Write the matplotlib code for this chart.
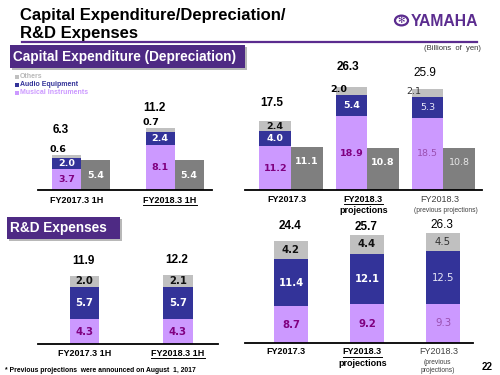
import matplotlib
matplotlib.use('Agg')
import matplotlib.pyplot as plt
from matplotlib.patches import Rectangle, Circle
from matplotlib.lines import Line2D

plt.rcParams['font.family'] = ['Liberation Sans', 'DejaVu Sans']

# --- data -------------------------------------------------------------
half_labels = ['FY2017.3 1H', 'FY2018.3 1H']
year_labels = ['FY2017.3', 'FY2018.3', 'FY2018.3']
year_sub = ['', 'projections', '(previous projections)']

capex_half_mi = [3.7, 8.1]
capex_half_av = [2.0, 2.4]
capex_half_oth = [0.6, 0.7]
capex_half_total = [6.3, 11.2]
dep_half = [5.4, 5.4]

capex_year_mi = [11.2, 18.9, 18.5]
capex_year_av = [4.0, 5.4, 5.3]
capex_year_oth = [2.4, 2.0, 2.1]
capex_year_total = [17.5, 26.3, 25.9]
dep_year = [11.1, 10.8, 10.8]

rd_half_mi = [4.3, 4.3]
rd_half_av = [5.7, 5.7]
rd_half_oth = [2.0, 2.1]
rd_half_total = [11.9, 12.2]

rd_year_mi = [8.7, 9.2, 9.3]
rd_year_av = [11.4, 12.1, 12.5]
rd_year_oth = [4.2, 4.4, 4.5]
rd_year_total = [24.4, 25.7, 26.3]

# --- style ------------------------------------------------------------
C_MI = '#cc99ff'
C_AV = '#333399'
C_OTH = '#c0c0c0'
C_DEP = '#7f7f7f'
PURPLE = '#5b2c8f'
VERD = ['DejaVu Sans']

W, H = 500, 375
fig = plt.figure(figsize=(5, 3.75), dpi=100)
fig.patch.set_facecolor('white')


def px_axes(x0, x1, y_top, y_base):
    ax = fig.add_axes([x0 / W, 1 - y_base / H, (x1 - x0) / W, (y_base - y_top) / H])
    ax.set_facecolor('none')
    for s in ['top', 'left', 'right']:
        ax.spines[s].set_visible(False)
    ax.spines['bottom'].set_linewidth(1.3)
    ax.set_xticks([])
    ax.set_yticks([])
    return ax


def seg_text(ax, x, y, s, color, size, bold=True):
    ax.text(x, y, s, ha='center', va='center', color=color, fontsize=size,
            family=VERD, fontweight='bold' if bold else 'normal')


def cat_text(ax, x, s, dy_px, size=6.5, bold=True, color='black'):
    return ax.annotate(s, xy=(x, 0), xycoords=ax.get_xaxis_transform(),
                       xytext=(0, -dy_px * 0.72), textcoords='offset points',
                       ha='center', va='center', fontsize=size, color=color,
                       fontweight='bold' if bold else 'normal')


def total_text(ax, x, y, s, dy_px, dx_px=0, bold=True, size=8.5):
    ax.annotate(s, xy=(x, y), xytext=(dx_px * 0.72, dy_px * 0.72),
                textcoords='offset points', ha='center', va='center',
                fontsize=size, fontweight='bold' if bold else 'normal', color='black')


underlined = []

# --- header -----------------------------------------------------------
fig.text(20 / W, 1 - 20 / H, 'Capital Expenditure/Depreciation/', fontsize=12,
         fontweight='bold', va='baseline')
fig.text(20 / W, 1 - 38 / H, 'R&D Expenses', fontsize=12, fontweight='bold', va='baseline')
fig.add_artist(Line2D([22 / W, 477 / W], [1 - 41.5 / H] * 2, color=PURPLE, lw=1.6))

fig.add_artist(Circle((401.5 / W, 1 - 20.5 / H), 6.5 / W, transform=fig.transFigure,
                      facecolor='none', edgecolor=PURPLE, lw=1.6))
fig.text(401.5 / W, 1 - 20.5 / H, '✻', fontsize=6.5, color=PURPLE, family=VERD,
         ha='center', va='center')
fig.text(411 / W, 1 - 21 / H, 'YAMAHA', fontsize=11.3, fontweight='bold', color=PURPLE,
         va='center')
fig.text(481 / W, 1 - 48 / H, '(Billions  of  yen)', fontsize=5.5, color='#333333',
         ha='right', va='center')


def title_box(x0, x1, y0, y1, s):
    fig.add_artist(Rectangle((x0 / W + 2 / W, 1 - y1 / H - 2 / H), (x1 - x0) / W, (y1 - y0) / H,
                             transform=fig.transFigure, facecolor='#b8b8b8', edgecolor='none'))
    fig.add_artist(Rectangle((x0 / W, 1 - y1 / H), (x1 - x0) / W, (y1 - y0) / H,
                             transform=fig.transFigure, facecolor='#4e2a84', edgecolor='none'))
    fig.text((x0 + 3) / W, 1 - (y0 + y1) / 2 / H, s, fontsize=9.8, fontweight='bold',
             color='white', va='center')


title_box(10, 245, 45, 68, 'Capital Expenditure (Depreciation)')
title_box(7, 120, 217, 239, 'R&D Expenses')

# legend
for k, (lab, col, tcol) in enumerate([('Others', C_OTH, '#b8b8b8'),
                                     ('Audio Equipment', C_AV, C_AV),
                                     ('Musical Instruments', C_MI, C_MI)]):
    yy = 77 + 8 * k
    fig.add_artist(Rectangle((15 / W, 1 - (yy + 2) / H), 4 / W, 4 / H,
                             transform=fig.transFigure, facecolor=col, edgecolor='none'))
    fig.text(20 / W, 1 - yy / H, lab, fontsize=5, fontweight='bold', color=tcol, va='center')

# --- capex 1H ---------------------------------------------------------
scale = 5.55
ax = px_axes(38, 212, 62, 190)
ax.set_xlim(-0.46, 1.40)
ax.set_ylim(0, 128 / scale)
w = 0.31
for i in range(2):
    xs = i - w / 2
    xd = i + w / 2
    ax.bar(xs, capex_half_mi[i], w, color=C_MI)
    ax.bar(xs, capex_half_av[i], w, bottom=capex_half_mi[i], color=C_AV)
    top = capex_half_mi[i] + capex_half_av[i]
    ax.bar(xs, capex_half_oth[i], w, bottom=top, color=C_OTH)
    ax.bar(xd, dep_half[i], w, color=C_DEP)
    seg_text(ax, xs, capex_half_mi[i] / 2, f'{capex_half_mi[i]:.1f}', '#800080', 6.8)
    seg_text(ax, xs, capex_half_mi[i] + capex_half_av[i] / 2, f'{capex_half_av[i]:.1f}', 'white', 6.8)
    ax.annotate(f'{capex_half_oth[i]:.1f}', xy=(xs - w / 2, top + capex_half_oth[i]),
                xytext=(-2, 0.5), textcoords='offset points', ha='left', va='bottom',
                fontsize=6.8, family=VERD, fontweight='bold')
    seg_text(ax, xd, dep_half[i] / 2, f'{dep_half[i]:.1f}', 'white', 6.8)
    total_text(ax, xs, top + capex_half_oth[i], f'{capex_half_total[i]:.1f}',
               [25, 20][i], -6)
    t = cat_text(ax, i - 0.05, half_labels[i], 10)
    if i == 1:
        underlined.append(t)

# --- capex full year --------------------------------------------------
scale = 3.9
ax = px_axes(245, 482, 62, 190)
ax.set_xlim(-0.605, 2.51)
ax.set_ylim(0, 128 / scale)
w = 0.415
for i in range(3):
    prev = i == 2
    xs = i - w / 2
    xd = i + w / 2
    ax.bar(xs, capex_year_mi[i], w, color=C_MI)
    ax.bar(xs, capex_year_av[i], w, bottom=capex_year_mi[i], color=C_AV)
    top = capex_year_mi[i] + capex_year_av[i]
    ax.bar(xs, capex_year_oth[i], w, bottom=top, color=C_OTH)
    ax.bar(xd, dep_year[i], w, color=C_DEP)
    seg_text(ax, xs, capex_year_mi[i] / 2, f'{capex_year_mi[i]:.1f}',
             '#9a4fb0' if prev else '#800080', 6.8, not prev)
    seg_text(ax, xs, capex_year_mi[i] + capex_year_av[i] / 2, f'{capex_year_av[i]:.1f}',
             '#e8e8f8' if prev else 'white', 6.8, not prev)
    if i == 0:
        seg_text(ax, xs, top + capex_year_oth[i] / 2, f'{capex_year_oth[i]:.1f}', '#111111', 6.8)
    else:
        ax.annotate(f'{capex_year_oth[i]:.1f}', xy=(xs - w / 2, top + capex_year_oth[i]),
                    xytext=(-4, -1.5), textcoords='offset points', ha='left', va='center',
                    fontsize=6.8, family=VERD, fontweight='normal' if prev else 'bold',
                    color='#333333' if prev else 'black')
    seg_text(ax, xd, dep_year[i] * 0.66, f'{dep_year[i]:.1f}',
             '#e6e6e6' if prev else 'white', 6.8, not prev)
    total_text(ax, xs, top + capex_year_oth[i], f'{capex_year_total[i]:.1f}',
               [18, 20, 16][i], -3, bold=not prev)
    t = cat_text(ax, i - 0.05, year_labels[i], 9, bold=not prev,
                 color='#404040' if prev else 'black')
    if i == 1:
        underlined.append(t)
        cat_text(ax, i - 0.05, year_sub[i], 20)
    if i == 2:
        cat_text(ax, i + 0.03, year_sub[i], 20, size=4.8, bold=False, color='#404040')

# --- R&D 1H -----------------------------------------------------------
scale = 5.7
ax = px_axes(38, 218, 250, 344)
ax.set_xlim(-0.497, 1.428)
ax.set_ylim(0, 94 / scale)
w = 0.315
for i in range(2):
    ax.bar(i, rd_half_mi[i], w, color=C_MI)
    ax.bar(i, rd_half_av[i], w, bottom=rd_half_mi[i], color=C_AV)
    top = rd_half_mi[i] + rd_half_av[i]
    ax.bar(i, rd_half_oth[i], w, bottom=top, color=C_OTH)
    seg_text(ax, i, rd_half_mi[i] / 2, f'{rd_half_mi[i]:.1f}', '#800080', 7.3)
    seg_text(ax, i, rd_half_mi[i] + rd_half_av[i] / 2, f'{rd_half_av[i]:.1f}', 'white', 7.3)
    seg_text(ax, i, top + rd_half_oth[i] / 2, f'{rd_half_oth[i]:.1f}', '#111111', 7.3)
    total_text(ax, i, top + rd_half_oth[i], f'{rd_half_total[i]:.1f}', 15, -1)
    t = cat_text(ax, i, half_labels[i], 9)
    if i == 1:
        underlined.append(t)

# --- R&D full year ----------------------------------------------------
scale = 4.2
ax = px_axes(245, 473, 215, 343)
ax.set_xlim(-0.605, 2.395)
ax.set_ylim(0, 128 / scale)
w = 0.447
for i in range(3):
    prev = i == 2
    ax.bar(i, rd_year_mi[i], w, color=C_MI)
    ax.bar(i, rd_year_av[i], w, bottom=rd_year_mi[i], color=C_AV)
    top = rd_year_mi[i] + rd_year_av[i]
    ax.bar(i, rd_year_oth[i], w, bottom=top, color=C_OTH)
    seg_text(ax, i, rd_year_mi[i] / 2, f'{rd_year_mi[i]:.1f}',
             '#9a4fb0' if prev else '#800080', 7.3, not prev)
    seg_text(ax, i, rd_year_mi[i] + rd_year_av[i] / 2, f'{rd_year_av[i]:.1f}',
             '#e8e8f8' if prev else 'white', 7.3, not prev)
    seg_text(ax, i, top + rd_year_oth[i] / 2, f'{rd_year_oth[i]:.1f}',
             '#333333' if prev else '#111111', 7.3, not prev)
    total_text(ax, i, top + rd_year_oth[i], f'{rd_year_total[i]:.1f}',
               [15, 8, 8][i], -1, bold=not prev)
    t = cat_text(ax, i - 0.06, year_labels[i], 9, bold=not prev,
                 color='#404040' if prev else 'black')
    if i == 1:
        underlined.append(t)
        cat_text(ax, i - 0.06, year_sub[i], 21)
    if i == 2:
        cat_text(ax, i - 0.07, '(previous', 20, size=4.8, bold=False, color='#404040')
        cat_text(ax, i - 0.07, 'projections)', 28, size=4.8, bold=False, color='#404040')

# --- footer -----------------------------------------------------------
fig.text(5 / W, 1 - 370 / H, '* Previous projections  were announced on August  1, 2017',
         fontsize=4.9, fontweight='bold', va='center')
fig.text(493 / W, 1 - 367 / H, '22', fontsize=7, fontweight='bold', ha='right', va='center')

# underline selected category labels
fig.canvas.draw()
r = fig.canvas.get_renderer()
for t in underlined:
    bb = t.get_window_extent(r)
    fig.add_artist(Line2D([bb.x0 / W, bb.x1 / W], [(bb.y0 - 0.3) / H] * 2,
                          color='black', lw=0.7))

fig.savefig('out.png', dpi=100)
